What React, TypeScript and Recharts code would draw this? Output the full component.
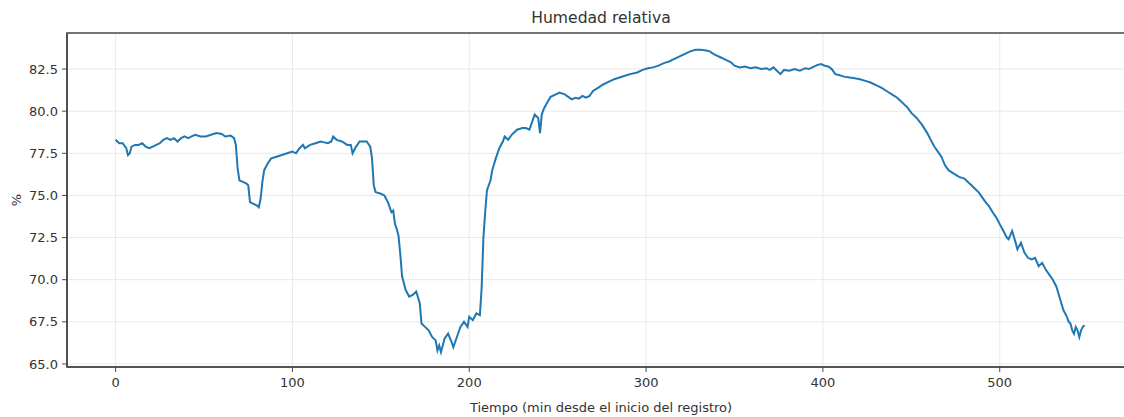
import React from "react";
import { LineChart, Line, XAxis, YAxis, CartesianGrid, ReferenceArea } from "recharts";

const times = [
  0, 2, 4, 6, 7, 8, 9, 11, 13, 15, 17, 19, 21, 23, 25, 27, 29, 31, 33, 35, 37, 39, 41, 43, 45, 48, 51, 54, 57, 60,
  62, 65, 67, 68, 69, 70, 72, 74, 75, 76, 78, 80, 81, 82, 83, 84, 86, 88, 91, 94, 97, 100, 102, 104, 106, 107, 110,
  113, 116, 118, 120, 122, 123, 125, 128, 131, 133, 134, 136, 138, 140, 142, 144, 145, 146, 147, 150, 152, 154, 156,
  157, 158, 159, 160, 161, 162, 164, 166, 168, 170, 172, 173, 175, 177, 179, 181, 182, 183, 184, 186, 188, 190, 191,
  193, 195, 197, 199, 200, 202, 204, 206, 207, 208, 209, 210, 212, 213, 215, 217, 219, 220, 222, 224, 227, 230, 232,
  234, 236, 237, 239, 240, 241, 242, 244, 246, 249, 251, 254, 256, 258, 260, 262, 264, 266, 268, 270, 273, 276, 279,
  282, 285, 288, 291, 295, 298, 301, 304, 307, 310, 313, 316, 319, 322, 325, 328, 331, 334, 336, 338, 340, 342, 344,
  346, 348, 350, 353, 356, 359, 362, 365, 368, 370, 372, 374, 376, 378, 381, 384, 387, 390, 392, 394, 397, 399, 401,
  403, 405, 407, 409, 412, 415, 418, 421, 424, 427, 430, 433, 436, 439, 442, 445, 448, 450, 453, 456, 459, 461, 463,
  465, 467, 469, 471, 474, 477, 480, 482, 484, 486, 488, 490, 492, 494, 496, 498, 500, 502, 504, 505, 507, 509, 510,
  512, 514, 516, 518, 520, 522, 524, 526, 528, 530, 532, 534, 536, 538, 539, 540, 541, 542, 543, 544, 545, 546, 547,
  548,
];

const humidity = [
  78.3, 78.1, 78.1, 77.8, 77.4, 77.5, 77.9, 78.0, 78.0, 78.1, 77.9, 77.8, 77.9, 78.0, 78.1, 78.3, 78.4, 78.3, 78.4,
  78.2, 78.4, 78.5, 78.4, 78.5, 78.6, 78.5, 78.5, 78.6, 78.7, 78.65, 78.5, 78.55, 78.4, 78.0, 76.6, 75.9, 75.8, 75.7,
  75.6, 74.6, 74.5, 74.4, 74.3, 74.8, 75.8, 76.5, 76.9, 77.2, 77.3, 77.4, 77.5, 77.6, 77.5, 77.8, 78.0, 77.8, 78.0,
  78.1, 78.2, 78.15, 78.1, 78.2, 78.5, 78.3, 78.2, 78.0, 78.0, 77.5, 77.9, 78.2, 78.2, 78.2, 77.9, 77.2, 75.6, 75.2,
  75.1, 75.0, 74.6, 74.0, 74.1, 73.3, 73.0, 72.6, 71.5, 70.2, 69.4, 69.0, 69.1, 69.3, 68.6, 67.4, 67.2, 67.0, 66.6,
  66.4, 65.8, 66.1, 65.7, 66.5, 66.8, 66.3, 66.0, 66.6, 67.2, 67.5, 67.2, 67.8, 67.6, 68.0, 67.9, 69.5, 72.5, 74.0,
  75.3, 75.9, 76.5, 77.2, 77.8, 78.2, 78.5, 78.3, 78.6, 78.9, 79.0, 79.0, 78.9, 79.5, 79.8, 79.6, 78.7, 79.8, 80.1,
  80.5, 80.85, 81.0, 81.1, 81.0, 80.85, 80.7, 80.8, 80.75, 80.9, 80.8, 80.9, 81.2, 81.4, 81.6, 81.75, 81.9, 82.0,
  82.1, 82.2, 82.3, 82.45, 82.55, 82.6, 82.7, 82.85, 82.95, 83.1, 83.25, 83.4, 83.55, 83.65, 83.65, 83.6, 83.55,
  83.4, 83.3, 83.2, 83.1, 83.0, 82.9, 82.7, 82.6, 82.65, 82.55, 82.6, 82.5, 82.55, 82.45, 82.6, 82.4, 82.2, 82.45,
  82.4, 82.5, 82.4, 82.55, 82.5, 82.6, 82.75, 82.8, 82.7, 82.65, 82.5, 82.2, 82.15, 82.05, 82.0, 81.95, 81.9, 81.8,
  81.7, 81.55, 81.4, 81.2, 81.0, 80.8, 80.5, 80.2, 79.9, 79.6, 79.2, 78.7, 78.3, 77.9, 77.6, 77.3, 76.8, 76.5, 76.3,
  76.1, 76.0, 75.8, 75.6, 75.4, 75.2, 74.9, 74.6, 74.35, 74.0, 73.7, 73.3, 72.9, 72.5, 72.4, 72.9, 72.2, 71.8, 72.2,
  71.6, 71.3, 71.2, 71.3, 70.8, 71.0, 70.6, 70.3, 70.0, 69.6, 68.9, 68.2, 67.8, 67.5, 67.4, 67.0, 66.8, 67.2, 67.0,
  66.6, 67.0, 67.2, 67.3,
];

const xTicks = [0, 100, 200, 300, 400, 500];
const yTicks = [65, 67.5, 70, 72.5, 75, 77.5, 80, 82.5];
const xDomain = [-27.5, 576.5];
const yDomain = [64.82, 84.64];

const title = "Humedad relativa";
const xLabel = "Tiempo (min desde el inicio del registro)";
const yLabel = "%";

const data = times.map((t, i) => ({ t, h: humidity[i] }));

const FONT = "'DejaVu Sans', sans-serif";
const AXIS = "#4a4a4a";
const TXT = "#333333";

export default function App() {
  return (
    <div
      style={{
        position: "fixed",
        left: 0,
        top: 0,
        width: 1124,
        height: 417,
        overflow: "hidden",
        background: "#ffffff",
      }}
    >
      <LineChart
        width={1150}
        height={417}
        data={data}
        margin={{ top: 33, right: 15, bottom: 0, left: 0 }}
        style={{ fontFamily: FONT }}
      >
        <CartesianGrid stroke="#e9e9e9" strokeWidth={1} />
        <XAxis
          dataKey="t"
          type="number"
          domain={xDomain}
          ticks={xTicks}
          allowDataOverflow
          height={50}
          tickSize={5}
          tickMargin={6}
          axisLine={{ stroke: AXIS, strokeWidth: 1.6 }}
          tickLine={{ stroke: AXIS }}
          tick={{ fill: TXT, fontSize: 13, fontFamily: FONT }}
          label={{
            value: xLabel,
            position: "insideBottom",
            offset: 5,
            style: { fill: TXT, fontSize: 13, fontFamily: FONT },
          }}
        />
        <YAxis
          type="number"
          domain={yDomain}
          ticks={yTicks}
          allowDataOverflow
          width={67}
          tickSize={5}
          tickMargin={4}
          tickFormatter={(v: number) => v.toFixed(1)}
          axisLine={{ stroke: AXIS, strokeWidth: 1.6 }}
          tickLine={{ stroke: AXIS }}
          tick={{ fill: TXT, fontSize: 13, fontFamily: FONT }}
          label={{
            value: yLabel,
            angle: -90,
            position: "insideLeft",
            offset: 16,
            style: { fill: TXT, fontSize: 13, fontFamily: FONT, textAnchor: "middle" },
          }}
        />
        <ReferenceArea
          x1={xDomain[0]}
          x2={xDomain[1]}
          y1={yDomain[0]}
          y2={yDomain[1]}
          fill="none"
          stroke={AXIS}
          strokeWidth={1.6}
          ifOverflow="visible"
        />
        <Line
          type="linear"
          dataKey="h"
          stroke="#1f77b4"
          strokeWidth={2}
          dot={false}
          isAnimationActive={false}
        />
      </LineChart>
      <svg
        width={1124}
        height={40}
        style={{ position: "absolute", left: 0, top: 0, pointerEvents: "none" }}
      >
        <text x={601} y={23} textAnchor="middle" fontFamily={FONT} fontSize={15.6} fill={TXT}>
          {title}
        </text>
      </svg>
    </div>
  );
}
